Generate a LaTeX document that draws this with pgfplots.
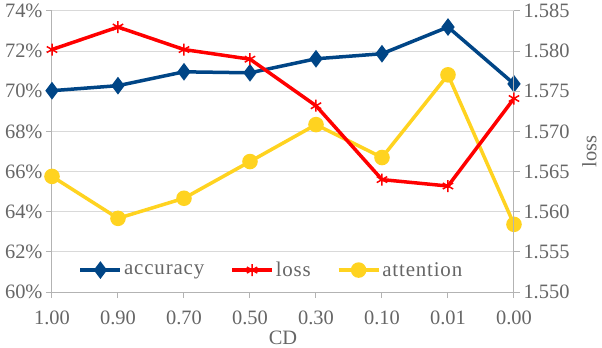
\documentclass[border=0pt]{standalone}
\usepackage{fontspec}
\setmainfont{Liberation Serif}
\usepackage{pgfplots}
\pgfplotsset{compat=1.18}
\definecolor{accblue}{HTML}{004586}
\definecolor{lossred}{HTML}{FF0000}
\definecolor{attyel}{HTML}{FFD320}
\definecolor{txtgray}{HTML}{666666}
\definecolor{gridgray}{HTML}{D9D9D9}
\definecolor{axgray}{HTML}{B3B3B3}

\pgfplotsset{
  base/.style={
    scale only axis, width=462bp, height=281bp,
    xmin=0, xmax=7, xtick={0,...,7},
    xticklabels={1.00,0.90,0.70,0.50,0.30,0.10,0.01,0.00},
    /pgf/number format/assume math mode=true,
    tick label style={font=\fontsize{20.5}{24}\selectfont, text=txtgray},
    xticklabel style={yshift=-9bp},
    label style={font=\fontsize{20.5}{24}\selectfont, text=txtgray},
    axis line style={axgray, line width=1bp},
    tick style={axgray, line width=1bp},
    major tick length=6bp,
    tick align=outside,
  },
  legend image code/.code={
    \draw[mark repeat=2, mark phase=2] plot coordinates {(0bp,0bp) (20bp,0bp) (40bp,0bp)};
  },
}

\begin{document}
\begin{tikzpicture}
\begin{axis}[base, name=ax1,
  axis x line*=bottom, axis y line*=left,
  ymin=60, ymax=74, ytick={60,62,...,74},
  yticklabel={\pgfmathprintnumber{\tick}\%},
  ymajorgrids, grid style={gridgray, line width=1bp},
  xlabel={CD}, xlabel style={yshift=0bp},
  legend columns=3,
  legend style={at={(0.475,0.078)}, anchor=center, draw=none, fill=white,
    font=\fontsize{21}{24}\selectfont\addfontfeatures{LetterSpace=4}, text=txtgray,
    /tikz/every even column/.append style={column sep=24bp}},
]
\addplot[accblue, line width=3.5bp, mark=diamond*, mark size=6bp] coordinates {
  (0,70.03) (1,70.28) (2,70.97) (3,70.92) (4,71.62) (5,71.87) (6,73.2) (7,70.37)};
\addlegendentry{accuracy}
\addlegendimage{lossred, line width=3.5bp, mark=asterisk, mark size=6bp, mark options={line width=1.5bp}}
\addlegendentry{loss}
\addplot[attyel, line width=3.5bp, mark=*, mark size=6bp] coordinates {
  (0,65.76) (1,63.67) (2,64.67) (3,66.5) (4,68.34) (5,66.7) (6,70.82) (7,63.37)};
\addlegendentry{attention}
\end{axis}
\begin{axis}[base, name=ax2,
  axis x line=none, axis y line*=right,
  ymin=1.55, ymax=1.585,
  ytick={1.55,1.555,1.56,1.565,1.57,1.575,1.58,1.585},
  yticklabel style={/pgf/number format/.cd, fixed, fixed zerofill, precision=3},
  ylabel={loss}, ylabel shift=6bp,
]
\addplot[lossred, line width=3.5bp, mark=asterisk, mark size=6bp, mark options={line width=1.5bp}] coordinates {
  (0,1.5802) (1,1.583) (2,1.5802) (3,1.579) (4,1.5732) (5,1.564) (6,1.5632) (7,1.5741)};
\end{axis}
\pgfresetboundingbox
\path (ax1.south west) ++(-52bp,-56bp) rectangle ++(602bp,348bp);
\end{tikzpicture}
\end{document}
